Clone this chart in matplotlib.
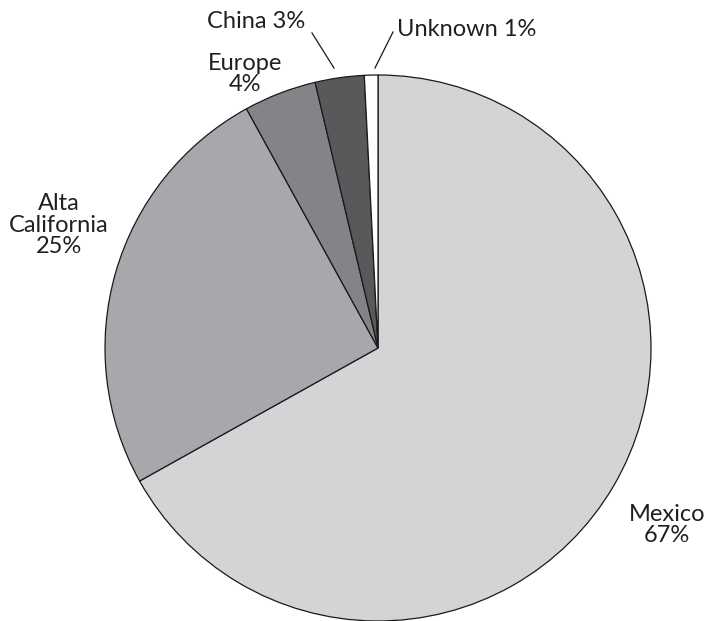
import matplotlib
matplotlib.use("Agg")
import matplotlib.pyplot as plt

categories = ["Mexico", "Alta California", "Europe", "China", "Unknown"]
values = [66.9, 25.1, 4.3, 2.9, 0.8]
labels = ["Mexico\n67%", "Alta\nCalifornia\n25%", "Europe\n4%", "China 3%", "Unknown 1%"]
colors = ["#d3d4d6", "#a7a8ab", "#838487", "#58595b", "#ffffff"]

plt.rcParams['font.family'] = ['Lato', 'DejaVu Sans']

W, H = 707, 621
fig = plt.figure(figsize=(W / 100, H / 100), dpi=100)
cx, cy, r = 378, 348, 273
ax = fig.add_axes([(cx - r) / W, (H - cy - r) / H, 2 * r / W, 2 * r / H])
ax.pie(values, colors=colors, startangle=90, counterclock=False, radius=1,
       wedgeprops=dict(edgecolor="#1a1a1a", linewidth=0.9))
ax.set_xlim(-1, 1)
ax.set_ylim(-1, 1)
ax.set_aspect("equal")
ax.axis("off")

def d(px, py):
    return ((px - cx) / r, (cy - py) / r)

fs = 17
tc = "#231f20"
positions = {
    "Mexico": d(667, 525),
    "Alta California": d(59, 225),
    "Europe": d(245, 74),
    "China": d(256, 21),
    "Unknown": d(467, 29),
}
for cat, lab in zip(categories, labels):
    x, y = positions[cat]
    ax.text(x, y, lab, ha="center", va="center", fontsize=fs, color=tc,
            linespacing=1.05, clip_on=False)

# leader lines
for (p0, p1) in [((312, 33), (334, 68)), ((393, 32), (375, 68))]:
    a = d(*p0); b = d(*p1)
    ax.plot([a[0], b[0]], [a[1], b[1]], color="#1a1a1a", linewidth=0.9, clip_on=False)

fig.savefig("out.png", dpi=100)
